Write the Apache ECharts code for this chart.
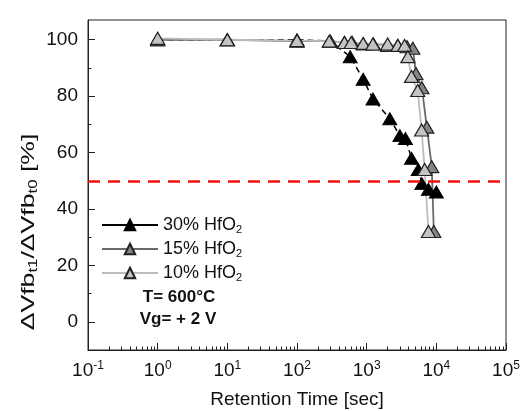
<!DOCTYPE html>
<html><head><meta charset="utf-8">
<script src="https://cdn.jsdelivr.net/npm/echarts@6/dist/echarts.min.js"></script>
<style>html,body{margin:0;padding:0;background:#fff}#c{width:520px;height:411px}</style>
</head><body><div id="c"></div>
<script>
// Retention time [sec] and normalized ΔVfb [%]
const t30 = [1, 10, 100, 300, 580, 890, 1230, 2150, 3000, 3600, 4400, 5500, 6200, 7700, 10000];
const v30 = [100, 100, 100, 99.5, 94, 86, 79, 72, 66, 65, 58, 54, 49, 47, 46];
const t15 = [1, 10, 100, 300, 480, 620, 900, 1250, 2000, 2800, 3800, 4600, 5100, 6200, 7300, 8600, 9200];
const v15 = [100, 100, 99.5, 99.5, 99, 99, 98.5, 98.5, 98, 98, 97.5, 97, 88, 83, 69, 55, 32];
const t10 = [1, 10, 100, 290, 480, 600, 890, 1230, 2000, 2800, 3500, 3900, 4400, 5400, 6150, 6800, 7700];
const v10 = [100.5, 100, 99.7, 99.5, 99, 99, 98.7, 98.5, 98.5, 98, 98, 94, 87, 82, 68, 54, 32];
const seriesNames = ['30% HfO2', '15% HfO2', '10% HfO2'];
const yTicks = [0, 20, 40, 60, 80, 100];
const yMinorTicks = [-10, 10, 30, 50, 70, 90];
const refLevel = 50;

const xMinor = [];
for (let e = -1; e < 5; e++) for (let m = 2; m <= 9; m++) xMinor.push(+(m * Math.pow(10, e)).toPrecision(3));

const font = 'Liberation Sans, Arial, sans-serif';
const zip = (a, b) => a.map((v, i) => [v, b[i]]);
const chart = echarts.init(document.getElementById('c'));

const legendRich = {
  n: {fontSize: 18, lineHeight: 20, fontFamily: font, color: '#111'},
  sub: {fontSize: 11, lineHeight: 11, verticalAlign: 'bottom', fontFamily: font, color: '#111'}
};

chart.setOption({
  animation: false,
  backgroundColor: '#fff',
  grid: {left: 88, right: 14, top: 20, bottom: 61, show: true, borderColor: '#222', borderWidth: 1,
         containLabel: false, outerBoundsMode: 'none'},
  legend: {
    orient: 'vertical', left: 96, top: 211, itemWidth: 56, itemHeight: 13, itemGap: 5,
    data: seriesNames.map(n => ({name: n, lineStyle: {type: 'solid'}})),
    formatter: n => '{n|' + n.replace('HfO2', 'HfO') + '}{sub|2}',
    textStyle: {rich: legendRich, fontFamily: font}
  },
  xAxis: [{
    type: 'log', logBase: 10, min: 0.1, max: 100000,
    axisLine: {show: true, onZero: false, lineStyle: {color: '#222', width: 1}},
    axisTick: {show: true, inside: true, length: 7, lineStyle: {color: '#222'}},
    splitLine: {show: false},
    axisLabel: {
      margin: 10, fontFamily: font, color: '#111',
      formatter: v => '{n|10}{sup|' + Math.round(Math.log10(v)) + '}',
      rich: {
        n: {fontSize: 19, lineHeight: 22, fontFamily: font, color: '#111'},
        sup: {fontSize: 12, lineHeight: 12, verticalAlign: 'top', fontFamily: font, color: '#111'}
      }
    },
    name: 'Retention Time [sec]', nameLocation: 'middle', nameGap: 40,
    nameTextStyle: {fontSize: 19, fontFamily: font, color: '#111'}
  }, {
    type: 'log', logBase: 10, min: 0.1, max: 100000, position: 'bottom',
    axisLine: {show: false, onZero: false}, axisLabel: {show: false}, splitLine: {show: false},
    axisTick: {show: true, inside: true, length: 3.5, customValues: xMinor, lineStyle: {color: '#222'}}
  }],
  yAxis: [{
    type: 'value', min: -10, max: 107,
    axisLine: {show: true, onZero: false, lineStyle: {color: '#222', width: 1}},
    axisTick: {show: true, inside: true, length: 7, customValues: yTicks, lineStyle: {color: '#222'}},
    splitLine: {show: false},
    axisLabel: {customValues: yTicks, margin: 10, fontSize: 19, fontFamily: font, color: '#111'}
  }, {
    type: 'value', min: -10, max: 107, position: 'left',
    axisLine: {show: false, onZero: false}, axisLabel: {show: false}, splitLine: {show: false},
    axisTick: {show: true, inside: true, length: 3.5, customValues: yMinorTicks, lineStyle: {color: '#222'}}
  }],
  graphic: [{
    type: 'text', x: 29, y: 232, rotation: Math.PI / 2, scaleX: 1.4,
    style: {
      text: '{n|ΔVfb}{sub|t1}{n|/ΔVfb}{sub|t0}{n| [%]}',
      align: 'center', verticalAlign: 'middle',
      rich: {
        n: {fontSize: 19, lineHeight: 22, fontFamily: font, fill: '#111'},
        sub: {fontSize: 12, lineHeight: 12, verticalAlign: 'bottom', fontFamily: font, fill: '#111'}
      }
    }
  }, {
    type: 'text', x: 179, y: 297,
    style: {text: 'T= 600°C', align: 'center', verticalAlign: 'middle', fontSize: 17, fontWeight: 'bold', fontFamily: font, fill: '#111'}
  }, {
    type: 'text', x: 178, y: 319,
    style: {text: 'Vg= + 2 V', align: 'center', verticalAlign: 'middle', fontSize: 17, fontWeight: 'bold', fontFamily: font, fill: '#111'}
  }],
  series: [{
    name: seriesNames[0], type: 'line', data: zip(t30, v30),
    symbol: 'triangle', symbolSize: [14, 12],
    lineStyle: {color: '#000', width: 1.5, type: [6, 4]},
    itemStyle: {color: '#000', borderColor: '#000', borderWidth: 1},
    markLine: {
      silent: true, symbol: 'none', label: {show: false},
      lineStyle: {color: '#ee1111', width: 2.5, type: [12, 8]},
      data: [{yAxis: refLevel}]
    }
  }, {
    name: seriesNames[1], type: 'line', data: zip(t15, v15),
    symbol: 'triangle', symbolSize: [14, 12],
    lineStyle: {color: '#6a6a6a', width: 1.8},
    itemStyle: {color: '#858585', borderColor: '#222', borderWidth: 1.2}
  }, {
    name: seriesNames[2], type: 'line', data: zip(t10, v10),
    symbol: 'triangle', symbolSize: [14, 12],
    lineStyle: {color: '#bdbdbd', width: 1.8},
    itemStyle: {color: '#c4c4c4', borderColor: '#222', borderWidth: 1.2}
  }]
});
</script></body></html>
